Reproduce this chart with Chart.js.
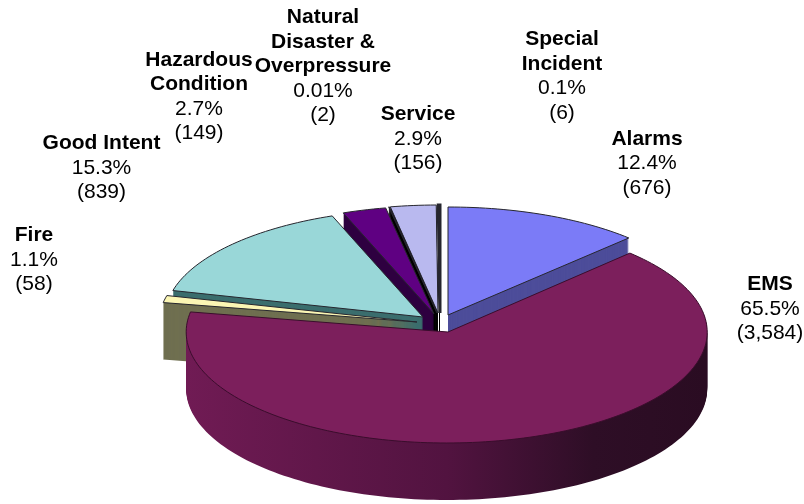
<!DOCTYPE html>
<html>
<head>
<meta charset="utf-8">
<title>Incidents by type</title>
<script src="https://cdn.jsdelivr.net/npm/chart.js@4/dist/chart.umd.js"></script>
<style>
  html, body { margin: 0; padding: 0; background: #fff; }
  canvas { display: block; }
</style>
</head>
<body>
<canvas id="myChart" width="804" height="504"></canvas>
<script>
  // data, clockwise from 12 o'clock
  var categories = ['Alarms', 'EMS', 'Fire', 'Good Intent', 'Hazardous Condition', 'Natural Disaster & Overpressure', 'Service', 'Special Incident']
  var counts = [676, 3584, 58, 839, 149, 2, 156, 6]
  var percentLabels = ['12.4%', '65.5%', '1.1%', '15.3%', '2.7%', '0.01%', '2.9%', '0.1%']
  var nameLines = [['Alarms'], ['EMS'], ['Fire'], ['Good Intent'], ['Hazardous', 'Condition'], ['Natural', 'Disaster &', 'Overpressure'], ['Service'], ['Special', 'Incident']]

  // styles
  var topColors = ['#7b7bf7', '#7c1f5c', '#fbf6b4', '#99d7d8', '#5f0082', '#111111', '#b9b9ef', '#0a0a14']
  var wallColors = ['#4d4d9a', null, '#6f6f50', '#3b6e6e', '#2e0040', '#000000', '#050505', '#000000']

  // layout: exploded apex of every slice, and label anchors (centre x, first baseline)
  var apexX = [448, 448, 417, 423, 434, 437, 438, 440]
  var apexY = [315, 332, 322, 317, 314, 313, 313, 313]
  var labelX = [647, 770, 34, 101.5, 199, 323, 418, 562]
  var labelY = [144.5, 290, 241, 149, 65.5, 23, 120, 45]
  var lineGap = 24.5
  var depth = 57
  var drawOrder = [7, 6, 5, 4, 0, 3, 2, 1]

  // plane projection of the unit circle, x' = a.u/(g.u + 1), y' = e.w/(g.u + 1)
  var flat = { a: 258, e: 108, g: 0 }
  var emsView = { a: 260.5, e: 111, g: 0.005 }

  function project(i, angle) {
    var p = i == 1 ? emsView : flat
    var u = Math.cos(angle), w = Math.sin(angle)
    var k = p.g * u + 1
    return [apexX[i] + p.a * u / k, apexY[i] + p.e * w / k]
  }

  function slicePath(ctx, arc, i, dy) {
    var steps = Math.max(2, Math.ceil((arc.endAngle - arc.startAngle) * 40))
    ctx.beginPath()
    ctx.moveTo(apexX[i], apexY[i] + dy)
    for (var s = 0; s <= steps; s++) {
      var pt = project(i, arc.startAngle + (arc.endAngle - arc.startAngle) * s / steps)
      ctx.lineTo(pt[0], pt[1] + dy)
    }
    ctx.closePath()
  }

  var pie3d = {
    id: 'pie3d',
    beforeDatasetsDraw: function (chart) {
      var ctx = chart.ctx
      var arcs = chart.getDatasetMeta(0).data
      ctx.save()
      drawOrder.forEach(function (i) {
        var wall = wallColors[i]
        if (i == 1) {
          wall = ctx.createLinearGradient(186, 0, 707, 0)
          wall.addColorStop(0, '#701b54')
          wall.addColorStop(0.5, '#521340')
          wall.addColorStop(0.78, '#2e0e26')
          wall.addColorStop(1, '#2a0c22')
        }
        ctx.fillStyle = wall
        for (var d = depth; d > 0; d--) {
          slicePath(ctx, arcs[i], i, d)
          ctx.fill()
        }
        slicePath(ctx, arcs[i], i, 0)
        ctx.fillStyle = topColors[i]
        ctx.fill()
        ctx.lineWidth = i == 7 ? 3 : 1
        ctx.strokeStyle = i == 1 ? '#3a0d2c' : '#26262e'
        ctx.stroke()
      })
      ctx.restore()
      return false
    },
    afterDraw: function (chart) {
      var ctx = chart.ctx
      ctx.save()
      ctx.fillStyle = '#000'
      ctx.textAlign = 'center'
      ctx.textBaseline = 'alphabetic'
      categories.forEach(function (c, i) {
        var y = labelY[i]
        ctx.font = 'bold 21px "Liberation Sans", Arial, sans-serif'
        nameLines[i].forEach(function (t) {
          ctx.fillText(t, labelX[i], y)
          y += lineGap
        })
        ctx.font = '21px "Liberation Sans", Arial, sans-serif'
        ctx.fillText(percentLabels[i], labelX[i], y)
        ctx.fillText('(' + counts[i].toLocaleString('en-US') + ')', labelX[i], y + lineGap)
      })
      ctx.restore()
    }
  }

  var myChart = new Chart(document.getElementById('myChart'), {
    type: 'pie',
    data: {
      labels: categories,
      datasets: [{ data: counts, backgroundColor: topColors, borderWidth: 0 }]
    },
    options: {
      responsive: false,
      animation: false,
      events: [],
      plugins: { legend: { display: false }, tooltip: { enabled: false } }
    },
    plugins: [pie3d]
  })
</script>
</body>
</html>
